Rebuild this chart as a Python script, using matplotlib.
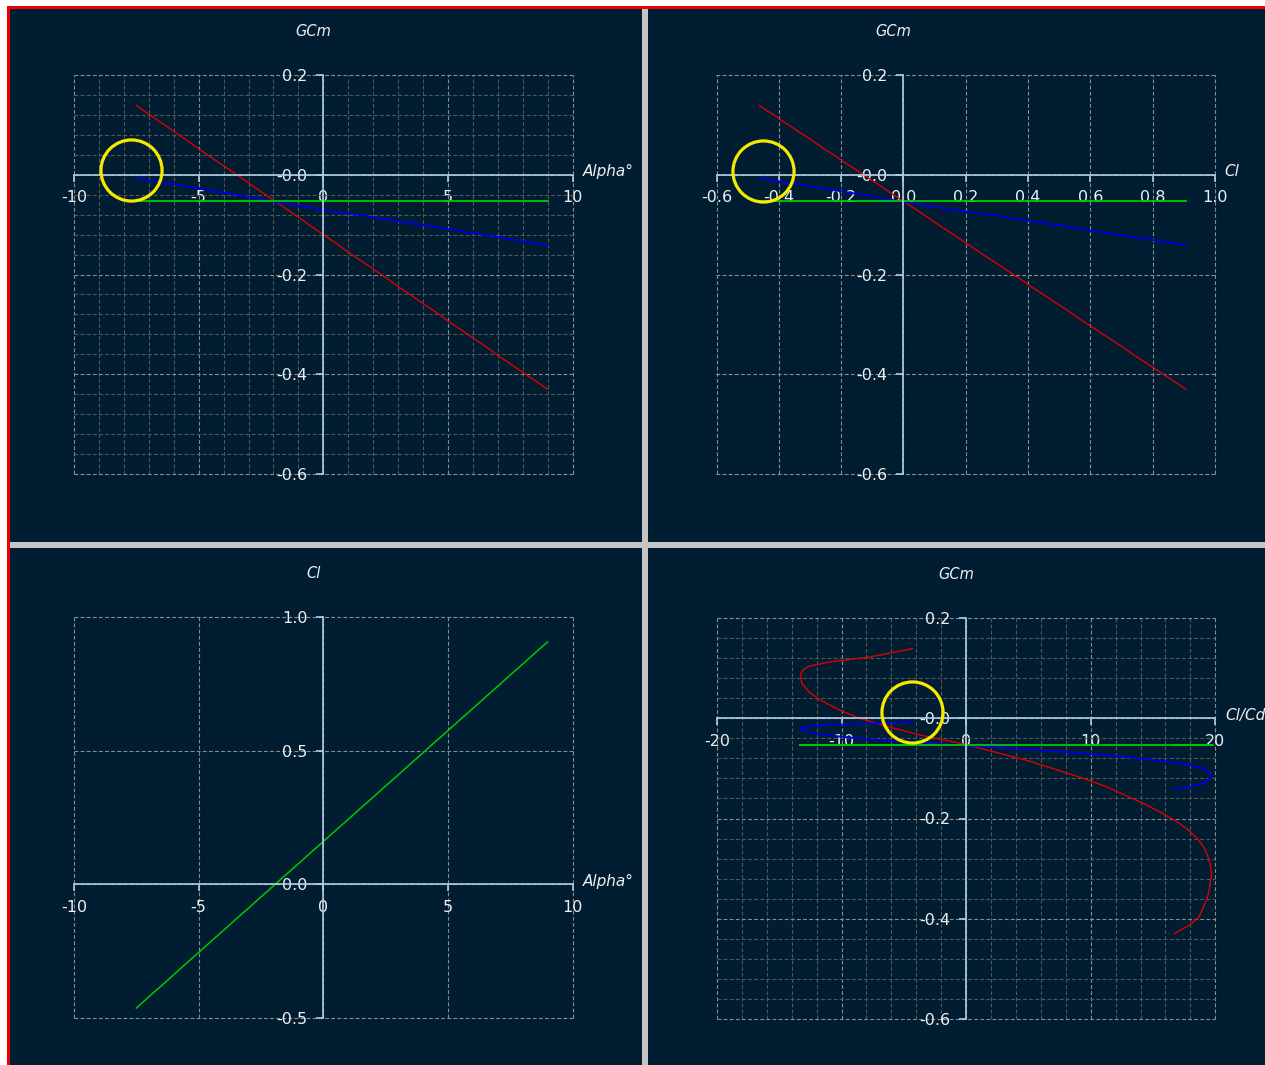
import matplotlib
matplotlib.use("Agg")
import matplotlib.pyplot as plt
from matplotlib.patches import Rectangle
from matplotlib.ticker import MultipleLocator, NullLocator
# Four XFLR5-style polar graphs on a dark background

# polar data, one value per angle of attack
alpha = [-7.5, -7.25, -7.0, -6.75, -6.5, -6.25, -6.0, -5.5, -5.0, -4.5, -4.0, -3.5, -3.0, -2.5,
         -2.0, -1.5, -1.0, -0.5, 0.0, 0.5, 1.0, 1.5, 2.0, 2.5, 3.0, 3.5, 4.0, 4.5, 5.0, 5.5,
         6.0, 6.5, 7.0, 7.5, 8.0, 8.5, 9.0]
cl = [-0.463, -0.442, -0.421, -0.400, -0.380, -0.359, -0.338, -0.296, -0.255, -0.213, -0.172,
      -0.130, -0.089, -0.047, -0.006, 0.036, 0.077, 0.119, 0.160, 0.202, 0.243, 0.285, 0.326,
      0.368, 0.409, 0.451, 0.492, 0.534, 0.575, 0.617, 0.658, 0.700, 0.741, 0.783, 0.824,
      0.866, 0.907]
cl_cd = [-4.3, -6.1, -7.8, -10.8, -12.6, -13.1, -13.3, -13.2, -12.6, -11.6, -10.3, -8.7, -6.4,
         -3.6, -0.3, 2.4, 5.0, 7.3, 9.4, 11.3, 12.9, 14.4, 15.7, 16.9, 17.9, 18.6, 19.1, 19.4,
         19.6, 19.7, 19.6, 19.5, 19.3, 19.0, 18.7, 17.9, 16.7]
gcm_red = [0.139, 0.130, 0.122, 0.113, 0.104, 0.096, 0.087, 0.070, 0.052, 0.035, 0.018, 0.001,
           -0.016, -0.034, -0.051, -0.068, -0.085, -0.103, -0.120, -0.137, -0.155, -0.172,
           -0.189, -0.206, -0.224, -0.241, -0.258, -0.275, -0.293, -0.310, -0.327, -0.344,
           -0.362, -0.379, -0.396, -0.413, -0.430]
gcm_blue = [-0.007, -0.009, -0.011, -0.013, -0.015, -0.017, -0.019, -0.023, -0.028, -0.032,
            -0.036, -0.040, -0.044, -0.049, -0.054, -0.058, -0.062, -0.066, -0.070, -0.074,
            -0.078, -0.081, -0.085, -0.089, -0.093, -0.097, -0.101, -0.105, -0.109, -0.113,
            -0.117, -0.121, -0.125, -0.129, -0.133, -0.137, -0.142]
gcm_green = [-0.053, -0.053, -0.053, -0.053, -0.053, -0.053, -0.053, -0.053, -0.053, -0.053,
             -0.053, -0.053, -0.053, -0.053, -0.053, -0.053, -0.053, -0.053, -0.053, -0.053,
             -0.053, -0.053, -0.053, -0.053, -0.053, -0.053, -0.053, -0.053, -0.053, -0.053,
             -0.053, -0.053, -0.053, -0.053, -0.053, -0.053, -0.053]

# tick values and their labels
alpha_ticks = [-10, -5, 0, 5, 10]
alpha_labels = ["-10", "-5", "0", "5", "10"]
gcm_ticks = [0.2, 0.0, -0.2, -0.4, -0.6]
gcm_labels = ["0.2", "-0.0", "-0.2", "-0.4", "-0.6"]
cl_x_ticks = [-0.6, -0.4, -0.2, 0.0, 0.2, 0.4, 0.6, 0.8, 1.0]
cl_x_labels = ["-0.6", "-0.4", "-0.2", "0.0", "0.2", "0.4", "0.6", "0.8", "1.0"]
cl_y_ticks = [1.0, 0.5, 0.0, -0.5]
cl_y_labels = ["1.0", "0.5", "0.0", "-0.5"]
clcd_ticks = [-20, -10, 0, 10, 20]
clcd_labels = ["-20", "-10", "0", "10", "20"]

# yellow highlight rings (x, y) per graph
ring_gcm_alpha = (-7.7, 0.009)
ring_gcm_cl = (-0.45, 0.007)
ring_gcm_clcd = (-4.35, 0.013)

W, H = 1265, 1065
BG = "#011d31"
AXIS_COL = "#b4cde8"
TEXT_COL = "#eef0f2"
MAJOR_GRID = "#8c8c8c"
MINOR_GRID = "#585654"
DASH = (0, (3.5, 2))

fig = plt.figure(figsize=(W / 100, H / 100), dpi=100, facecolor="white")


def px_box(x0, y0, x1, y1):
    # pixel box (top-left origin) -> figure fraction rect
    return [x0 / W, 1 - y1 / H, (x1 - x0) / W, (y1 - y0) / H]


def add_rect(x0, y0, x1, y1, color):
    r = px_box(x0, y0, x1, y1)
    fig.add_artist(Rectangle((r[0], r[1]), r[2], r[3], transform=fig.transFigure,
                             facecolor=color, edgecolor="none", zorder=-10))


# red frame, grey splitters and dark panels
add_rect(7, 6, W + 5, H + 5, "#f00000")
add_rect(10, 9, W + 5, H + 5, "#c4c4c4")
add_rect(10, 9, 642, 542, BG)
add_rect(648, 9, W + 5, 542, BG)
add_rect(10, 548, 642, H + 5, BG)
add_rect(648, 548, W + 5, H + 5, BG)


def make_graph(box, xlim, ylim, xticks, xlabels, yticks, ylabels, xminor, yminor, title, xname):
    ax = fig.add_axes(px_box(*box))
    ax.set_facecolor("none")
    ax.set_xlim(xlim)
    ax.set_ylim(ylim)
    ax.set_xticks(xticks, xlabels)
    ax.set_yticks(yticks, ylabels)
    ax.xaxis.set_minor_locator(MultipleLocator(xminor) if xminor else NullLocator())
    ax.yaxis.set_minor_locator(MultipleLocator(yminor) if yminor else NullLocator())

    for s in ["top", "right"]:
        ax.spines[s].set_visible(False)
    ax.spines["left"].set_position(("data", 0))
    ax.spines["bottom"].set_position(("data", 0))
    for s in ["left", "bottom"]:
        ax.spines[s].set_color(AXIS_COL)
        ax.spines[s].set_linewidth(1.2)

    ax.tick_params(which="major", direction="out", length=5, width=1.2, color=AXIS_COL,
                   labelcolor=TEXT_COL, labelsize=11.5)
    ax.tick_params(axis="x", which="major", pad=6)
    ax.tick_params(axis="y", which="major", pad=6.5)
    ax.tick_params(which="minor", length=0)

    ax.grid(which="major", color=MAJOR_GRID, linewidth=0.8, linestyle=DASH, clip_on=False)
    ax.grid(which="minor", color=MINOR_GRID, linewidth=0.8, linestyle=DASH, clip_on=False)

    ax.annotate(title, xy=(0, 1), xycoords=("data", "axes fraction"), xytext=(-7, 31),
                textcoords="offset points", ha="center", va="center", color=TEXT_COL,
                fontsize=10.5, style="italic")
    ax.annotate(xname, xy=(1, 0), xycoords=("axes fraction", "data"), xytext=(7, 2),
                textcoords="offset points", ha="left", va="center", color=TEXT_COL,
                fontsize=11, style="italic", annotation_clip=False)
    return ax


def draw_gcm(ax, xs):
    ax.plot(xs, gcm_red, color="#dc0000", linewidth=1.0)
    ax.plot(xs, gcm_blue, color="#0000e6", linewidth=1.3)
    ax.plot(xs, gcm_green, color="#00c800", linewidth=1.3)


def ring(ax, pt):
    ax.plot([pt[0]], [pt[1]], marker="o", markersize=44, markerfacecolor="none",
            markeredgecolor="#f7ea00", markeredgewidth=2.3, clip_on=False, zorder=5)


# GCm vs Alpha
ax1 = make_graph((74, 75, 572.6, 474), (-10, 10), (-0.6, 0.2), alpha_ticks, alpha_labels,
                 gcm_ticks, gcm_labels, 1, 0.04, "GCm", "Alpha°")
draw_gcm(ax1, alpha)
ring(ax1, ring_gcm_alpha)

# GCm vs Cl
ax2 = make_graph((716.5, 75, 1215, 474), (-0.6, 1.0), (-0.6, 0.2), cl_x_ticks, cl_x_labels,
                 gcm_ticks, gcm_labels, None, None, "GCm", "Cl")
draw_gcm(ax2, cl)
ring(ax2, ring_gcm_cl)

# Cl vs Alpha
ax3 = make_graph((74, 617, 572.6, 1018), (-10, 10), (-0.5, 1.0), alpha_ticks, alpha_labels,
                 cl_y_ticks, cl_y_labels, None, None, "Cl", "Alpha°")
ax3.plot(alpha, cl, color="#00c800", linewidth=1.1)

# GCm vs Cl/Cd
ax4 = make_graph((717, 618, 1215.3, 1019), (-20, 20), (-0.6, 0.2), clcd_ticks, clcd_labels,
                 gcm_ticks, gcm_labels, 2, 0.04, "GCm", "Cl/Cd")
draw_gcm(ax4, cl_cd)
ring(ax4, ring_gcm_clcd)

fig.savefig("out.png", dpi=100, facecolor=fig.get_facecolor())
